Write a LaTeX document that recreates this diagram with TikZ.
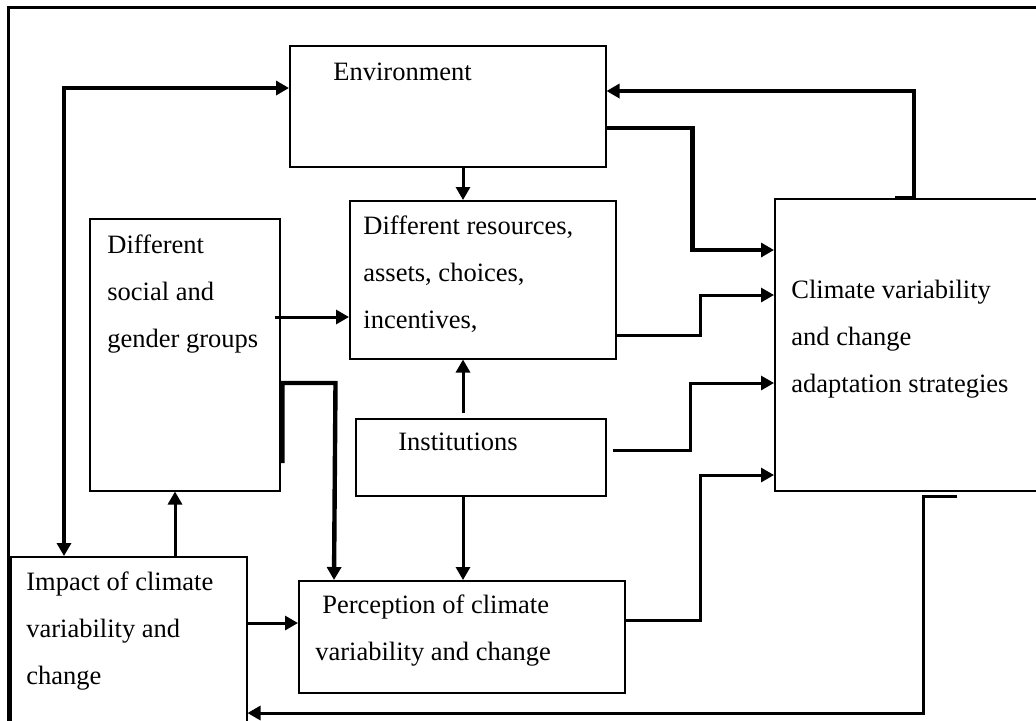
\documentclass[tikz,border=0pt]{standalone}
\usepackage{fontspec}
\setmainfont{Liberation Serif}
\usepackage{tikz}
\usetikzlibrary{arrows.meta,calc}

\begin{document}
\begin{tikzpicture}[x=0.5pt, y=-0.5pt, >={Triangle[length=6.5pt,width=7pt]},
  blk/.style={draw, line width=0.75pt, anchor=north west, inner sep=0pt},
  txt/.style={anchor=north west, inner sep=0pt, align=left,
    font=\fontsize{13.25}{23.5}\selectfont},
  thk/.style={line width=2.2pt},
  med/.style={line width=1.5pt}]
\useasboundingbox (0,0) rectangle (1036,720);
\draw[line width=1.5pt] (8,740) |- (1050,7);
\node[blk, minimum width=158pt, minimum height=60.5pt,
  label={[txt, shift={(44,18)}]north west:Environment}] (env) at (289,45) {};
\node[blk, minimum width=133pt, minimum height=79pt,
  label={[txt, shift={(14,15)}]north west:Different resources,\\assets, choices,\\incentives,}] (res) at (349,200) {};
\node[blk, minimum width=95pt, minimum height=136pt,
  label={[txt, shift={(18,16)}]north west:Different\\social and\\gender groups}] (soc) at (89,218) {};
\node[blk, minimum width=125pt, minimum height=38.5pt,
  label={[txt, shift={(43,15)}]north west:Institutions}] (inst) at (355,418) {};
\node[blk, minimum width=118pt, minimum height=100pt,
  label={[txt, shift={(16,15)}]north west:Impact of climate\\variability and\\change}] (imp) at (10,556) {};
\node[blk, minimum width=163pt, minimum height=56pt,
  label={[txt, shift={(17,14)}]north west:\hspace*{3.5pt}Perception of climate\\variability and change}] (perc) at (298,580) {};
\node[blk, minimum width=140pt, minimum height=146pt,
  label={[txt, shift={(17,82)}]north west:Climate variability\\and change\\adaptation strategies}] (adapt) at (774,198) {};
\draw[thk, <->] ($(imp.north west)+(54,0)$) |- ($(env.north west)+(0,43)$);
\draw[med, ->] ($(env.south west)+(174,0)$) -- ($(res.north west)+(114,0)$);
\draw[thk, ->] ($(adapt.north west)+(121,0)$) -- ++(19,0) |- ($(env.north east)+(0,46)$);
\draw[thk, ->] ($(env.north east)+(0,83)$) -- ++(86,0) |- ($(adapt.north west)+(0,52)$);
\draw[med, ->] ($(res.north east)+(0,135)$) -- ++(84,0) |- ($(adapt.north west)+(0,97)$);
\draw[med, ->] ($(inst.north east)+(6,32)$) -- ++(78,0) |- ($(adapt.north west)+(0,185)$);
\draw[med, ->] ($(perc.north east)+(0,40)$) -- ++(75,0) |- ($(adapt.north west)+(0,277)$);
\draw[med, ->] ($(adapt.south west)+(183,5)$) -- ++(-34,0) |- ($(imp.north east)+(0,157)$);
\draw[med, ->] ($(imp.north west)+(165,0)$) -- ($(soc.south west)+(86,0)$);
\draw[med, ->] ($(imp.north east)+(0,67)$) -- ($(perc.north west)+(0,43)$);
\draw[med, ->] ($(soc.north east)+(-6,99)$) -- ($(res.north west)+(0,117)$);
\draw[thk, ->] ($(soc.north east)+(2,245)$) |- ++(53,-80) -- ($(perc.north west)+(36,0)$);
\draw[med, ->] ($(inst.north west)+(108,-5)$) -- ($(res.south west)+(114,0)$);
\draw[med, ->] ($(inst.south west)+(108,0)$) -- ($(perc.north west)+(165,0)$);
\end{tikzpicture}
\end{document}
